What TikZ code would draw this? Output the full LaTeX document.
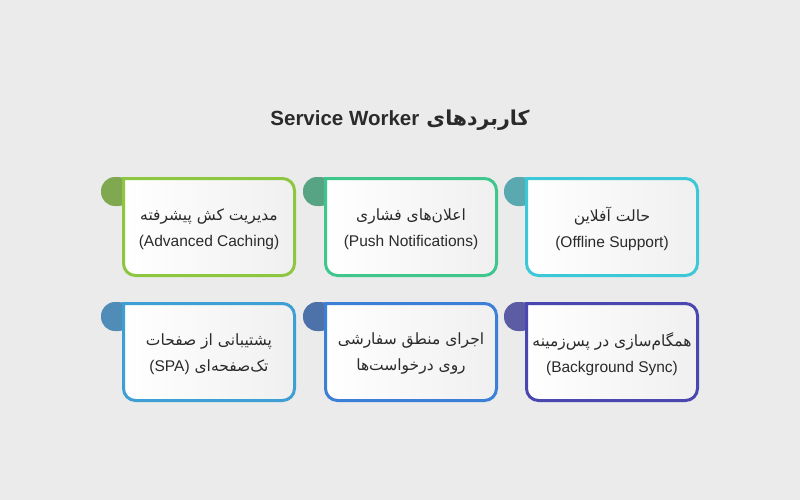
\documentclass[tikz,border=0pt]{standalone}
\usepackage{fontspec}
\setmainfont{Liberation Sans}
\newfontfamily\fa[Script=Arabic]{DejaVu Sans}
\TeXXeTstate=1
\definecolor{bg}{HTML}{EBEBEB}
\definecolor{txtgray}{HTML}{2A2A2A}
\definecolor{bA}{HTML}{8DC63F}\definecolor{tA}{HTML}{7FA850}
\definecolor{bB}{HTML}{3FC68C}\definecolor{tB}{HTML}{56A483}
\definecolor{bC}{HTML}{3CC8D6}\definecolor{tC}{HTML}{5AA8B0}
\definecolor{bD}{HTML}{3D9FD3}\definecolor{tD}{HTML}{4F8DB8}
\definecolor{bE}{HTML}{3B7FD6}\definecolor{tE}{HTML}{4D72AA}
\definecolor{bF}{HTML}{4A48B0}\definecolor{tF}{HTML}{5C5CA5}
\tikzset{
  cardtxt/.style={align=center, text=txtgray, font=\fontsize{15.5}{26}\selectfont, inner sep=0pt},
  titletxt/.style={text=txtgray, font=\fontsize{20.5}{24}\selectfont\bfseries, inner sep=0pt},
  cardedge/.style={line width=3pt, draw=#1, left color=white, right color=black!6},
  tabfill/.style={fill=#1, rounded corners=14pt},
}
% #1 = outer left, #2 = outer top, #3 border colour, #4 tab colour
\newcommand\cardbox[4]{%
  \path[tabfill=#4] (#1-21,#2) rectangle (#1+10,#2+29);
  \draw[cardedge=#3] (#1+1.5,#2+1.5) -- (#1+160.5,#2+1.5) arc(90:0:12pt) -- (#1+172.5,#2+86.5) arc(0:-90:12pt) -- (#1+13.5,#2+98.5) arc(-90:-180:12pt) -- cycle;
}
\begin{document}
\begin{tikzpicture}[x=1pt,y=-1pt]
\fill[bg] (0,0) rectangle (800,500);
\useasboundingbox (0,0) rectangle (800,500);

\node[titletxt] (title) at (400,120) {{\fa\beginR کاربردهای \beginL{\normalfont\bfseries Service Worker}\endL\endR}};

\cardbox{122}{177}{bA}{tA}
\cardbox{324}{177}{bB}{tB}
\cardbox{525}{177}{bC}{tC}
\cardbox{122}{302}{bD}{tD}
\cardbox{324}{302}{bE}{tE}
\cardbox{525}{302}{bF}{tF}

\node[cardtxt] (c1) at (209,229) {{\fa\beginR مدیریت کش پیشرفته\endR}\\(Advanced Caching)};
\node[cardtxt] (c2) at (411,229) {{\fa\beginR اعلان‌های فشاری\endR}\\(Push Notifications)};
\node[cardtxt] (c3) at (612,229) {{\fa\beginR حالت آفلاین\endR}\\(Offline Support)};
\node[cardtxt] (c4) at (209,354) {{\fa\beginR پشتیبانی از صفحات\endR}\\{\fa\beginR تک‌صفحه‌ای \beginL{\normalfont(SPA)}\endL\endR}};
\node[cardtxt] (c5) at (411,354) {{\fa\beginR اجرای منطق سفارشی\endR}\\{\fa\beginR روی درخواست‌ها\endR}};
\node[cardtxt] (c6) at (612,354) {{\fa\beginR همگام‌سازی در پس‌زمینه\endR}\\(Background Sync)};
\end{tikzpicture}
\end{document}
